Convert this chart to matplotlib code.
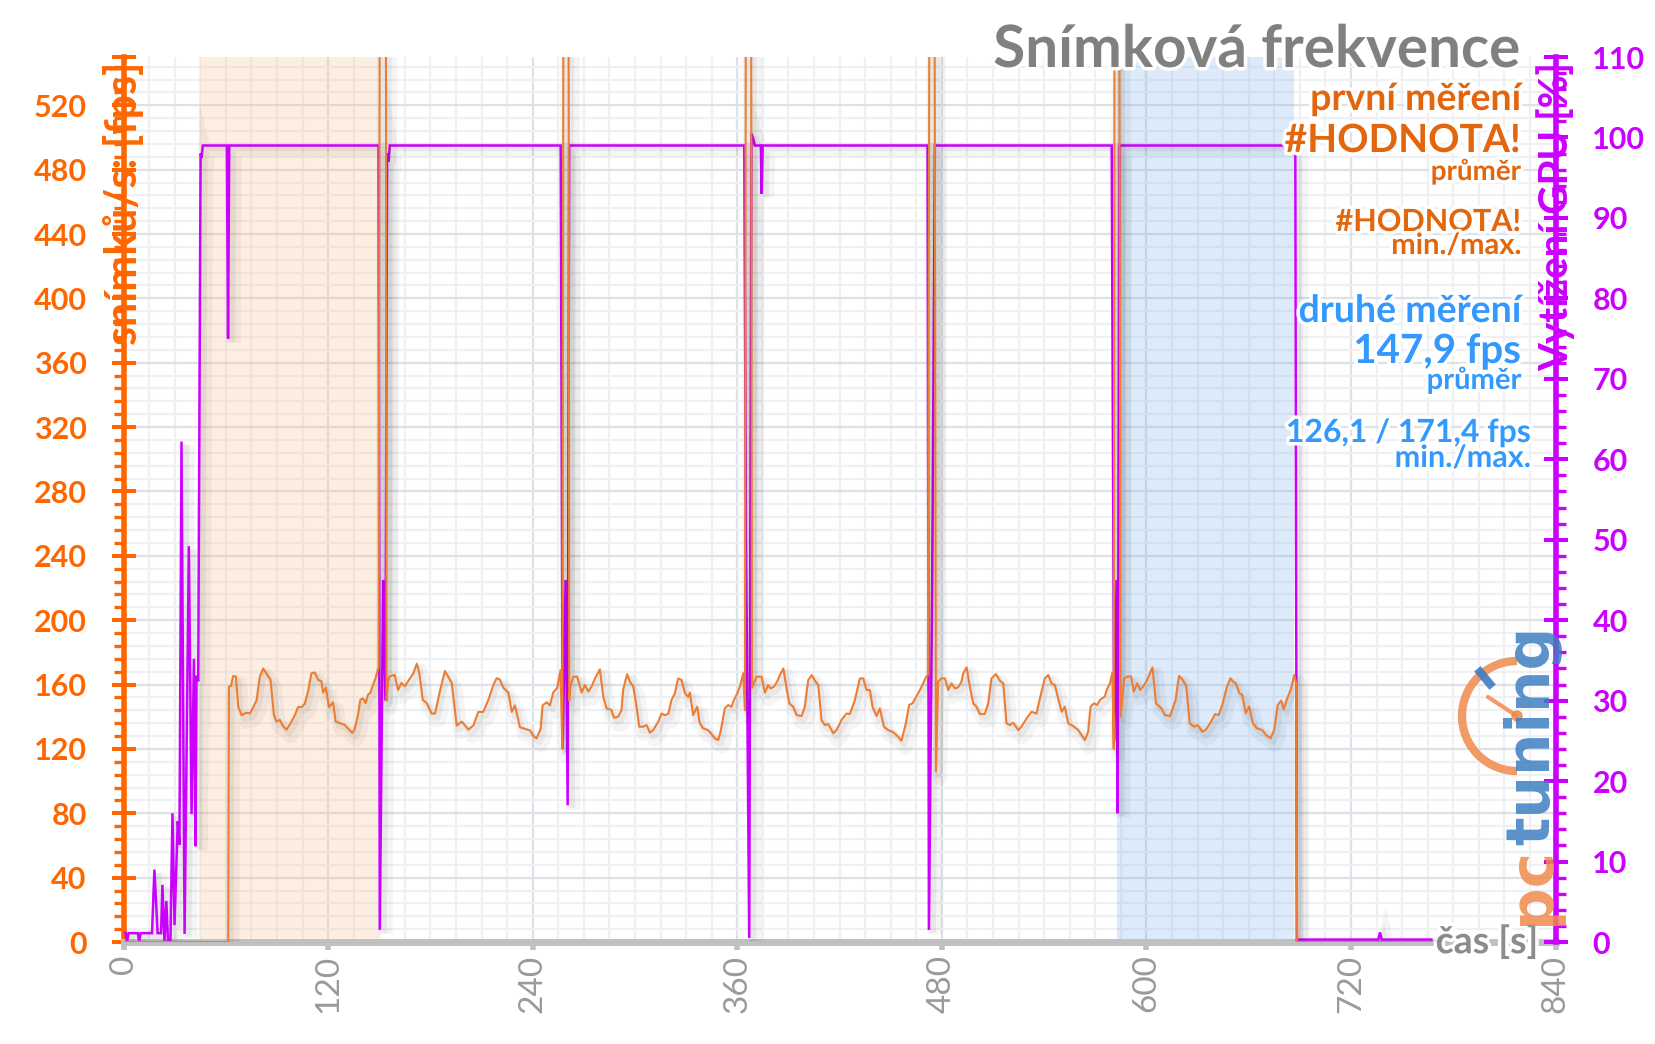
import matplotlib
matplotlib.use("Agg")
import matplotlib.pyplot as plt
import matplotlib.patheffects as pe
from matplotlib.patches import Arc, Circle
from matplotlib.ticker import MultipleLocator

plt.rcParams['font.family'] = ['Lato', 'DejaVu Sans']

# --- data ---
fps_t = [0, 61.4, 61.8, 63.0, 64.3, 65.9, 67.3, 69.3, 72.2, 74.2, 76.1, 78.0, 80.0, 81.9, 84.9, 86.2,
         88.2, 89.7, 91.7, 93.6, 95.6, 97.5, 100.5, 102.4, 104.4, 106.3, 108.3, 110.2, 112.2, 114.1,
         116.1, 117.0, 118.6, 120.5, 122.9, 124.4, 126.8, 129.7, 132.2, 134.2, 135.5, 137.5, 138.9,
         140.4, 142.0, 143.4, 144.7, 146.3, 147.8, 149.6, 150.8, 153.6, 154.3, 155.2,
         156.0, 159.0, 161.0, 163.0, 165.0, 167.5, 170.0, 172.0, 173.5, 175.5, 177.8, 180.7, 182.7,
         185.6, 188.5, 192.5, 195.4, 198.4, 202.3, 205.2, 208.1, 211.0, 214.0, 217.0, 218.9, 220.8,
         222.8, 225.7, 227.7, 229.6, 232.5, 235.5, 238.4, 240.4, 242.3, 244.7, 245.8, 248.2, 250.1,
         252.0, 254.4, 256.3, 257.4, 258.4, 260.8, 261.4, 262.2,
         263.8, 266.1, 268.7, 270.6, 272.6, 274.5, 276.5, 279.4, 281.4, 283.3, 286.2, 287.6, 290.2,
         292.1, 293.1, 295.4, 297.0, 299.0, 300.9, 302.5, 304.8, 306.8, 308.7, 310.7, 313.6, 315.6,
         317.5, 319.5, 321.4, 323.4, 325.3, 327.3, 329.3, 331.2, 332.2, 334.1, 336.5, 338.0, 340.0,
         342.9, 344.9, 346.9, 348.8, 350.2, 352.7, 354.7, 356.6, 358.0, 360.0, 361.5, 363.5, 364.5,
         365.3, 367.8, 368.6,
         369.7, 371.3, 374.2, 376.2, 378.1, 379.5, 381.5, 383.4, 385.0, 387.0, 388.9, 390.5, 392.8,
         394.8, 397.7, 399.6, 401.6, 403.6, 405.5, 407.5, 409.4, 411.4, 413.3, 416.3, 418.2, 421.1,
         424.1, 426.0, 429.0, 431.9, 433.9, 435.8, 437.8, 439.3, 441.7, 443.6, 446.0, 448.5, 451.1,
         453.4, 456.3, 458.9, 460.8, 462.8, 464.7, 467.1, 469.0, 470.6, 471.8, 473.3, 475.2, 476.5,
         477.8, 479.8, 481.8, 483.7, 485.7, 487.6, 489.6, 491.5, 492.5, 494.5, 496.4, 498.4, 500.3,
         502.3, 505.2, 507.2, 509.1, 511.7, 514.0, 516.0, 517.9, 519.9, 521.8, 524.8, 526.7, 529.7,
         532.6, 535.5, 537.5, 540.4, 542.4, 544.3, 546.3, 548.2, 550.2, 552.1, 554.1, 557.0, 560.0,
         561.9, 563.9, 565.8, 567.2, 569.2, 571.1, 572.7, 575.5, 577.1, 578.6, 580.0, 580.8, 581.6,
         583.6, 584.8,
         586.9, 589.0, 591.0, 592.5, 594.6, 596.3, 598.3, 600.4, 603.5, 605.6, 608.7, 610.8, 613.9,
         617.1, 619.1, 621.2, 623.3, 625.4, 627.9, 630.0, 632.7, 634.7, 637.9, 640.3, 642.4, 644.5,
         647.2, 649.3, 650.7, 652.4, 654.5, 656.2, 658.2, 660.3, 662.4, 664.9, 668.0, 670.1, 672.8,
         674.9, 677.0, 679.0, 680.5, 682.6, 684.7, 686.7, 687.8, 688.4, 767]
fps_v = [0, 0, 158.7, 159, 165.3, 165, 146, 141, 142.5, 142, 146, 150, 165, 170, 165, 163,
         141, 137, 138, 134, 132, 135, 141, 146, 146, 148, 156, 167, 167.5, 163,
         162, 155, 158, 146, 149, 137, 136, 135, 132, 130, 132, 141, 150.5,
         151.5, 148.5, 153.7, 154.7, 159.7, 163.8, 171, 900, 900, 150, 162,
         165, 166, 156.6, 161, 159, 163, 167, 173, 167, 150.5, 148.5, 142, 142,
         156, 168.4, 161, 134.5, 137, 132, 134.6, 143, 143, 150.5, 160, 164, 163,
         158, 155, 143, 147, 133.5, 132.5, 131.5, 128, 126.5, 132.5, 147, 149, 147,
         155, 158, 169, 120, 900, 900, 150, 159,
         164.9, 164.9, 155, 159.7, 155.6, 158.7, 163.8, 169.4, 152.4, 145.2, 144.2, 139.4, 140,
         144.2, 157, 166.5, 161.8, 158.7, 146.2, 133.8, 133.8, 134.8, 130.1, 131.7, 136.9, 142,
         141, 141.7, 150.4, 154.5, 163.8, 162.8, 154.5, 152.4, 155, 141, 146.2, 135.9, 132.8,
         131.7, 129.2, 126.5, 125.5, 130.7, 145.2, 147.3, 146.2, 150.4, 154.5, 158.7, 167, 144,
         900, 900, 158,
         160.7, 164.9, 164.9, 155, 159.7, 157.6, 158.7, 161.8, 165.9, 170, 157.6, 148.3, 146.2,
         141, 140.4, 146.2, 162.8, 165.9, 162.4, 159.7, 137.9, 134.8, 135.5, 129.7, 131.7, 137.9,
         142, 141.7, 150.4, 163.8, 163.8, 156.6, 156.6, 146.2, 140.4, 145.2, 133.8, 131.7, 130.7,
         128.6, 125.1, 136, 147.3, 148.3, 152, 156.6, 160.7, 164.5, 166, 900, 900, 106,
         161.8, 163.8, 163.8, 156.6, 160.7, 157.6, 158.3, 161.8, 166.9, 170.7, 158.7, 148.3, 146.2,
         141.7, 141.7, 148.3, 163.8, 166.5, 162.4, 160.7, 135.9, 134.8, 136.3, 131.7, 133.8, 139,
         143.1, 142, 151.4, 163.8, 165.9, 160.7, 159.7, 151.4, 143.1, 146.2, 135.9, 134.2, 131.7,
         128.6, 125.5, 130.7, 146.2, 148.3, 147.3, 150.4, 152.5, 157.7, 160.8, 167.4, 120, 900,
         900, 140,
         163.9, 165, 165, 155.6, 160.8, 156.6, 159.1, 162.9, 170.7, 148.3, 145.2, 141, 140.5,
         150.4, 165.4, 162.9, 159.1, 135.9, 133.8, 134.9, 130.7, 131.7, 136.9, 141.7, 141.1, 147.3,
         158.7, 163.9, 161.8, 160.8, 154.6, 153.5, 142.1, 146.3, 135.9, 132.8, 131.7, 128.6, 126.6,
         131.7, 147.3, 150, 144.6, 151.5, 157, 166, 160.8, 0, 0]

gpu_t = [0, 1.4, 2, 3, 8.4, 9.2, 10, 16.7, 18.1, 20, 22, 22.8, 24, 25.1, 26.1, 27.5, 28.7, 29.9,
         31.8, 32.8, 34, 35.8, 38.3, 39.9, 41.3, 42.2, 42.8, 43.8, 45.2, 45.8, 46.5, 60.6, 61.3, 62,
         149.6, 150.3, 152.3, 153.6, 154.6, 155.4, 156.2, 256.4, 257.6, 259.3, 260.5, 261.4,
         364.1, 365.1, 367.0, 368.3, 369.5, 370.2, 373.8, 374.3, 374.9, 471.6, 472.4, 474.3, 475.9,
         579.6, 581.1, 582.5, 583.1, 584.2, 687.3, 688.2, 736, 737, 738, 767]
gpu_v = [1.1, 1.1, 0, 1.1, 1.1, 0, 1.1, 1.1, 9, 1.1, 1.1, 7.1, 0, 5.1, 0, 0, 16, 2.1,
         15, 12.1, 62.2, 1, 49.2, 15.9, 35.2, 11.9, 33.1, 32.4, 98, 97.5, 99, 99, 75, 99,
         99, 1.5, 45, 30, 98, 97, 99, 99, 24, 45, 17, 99,
         99, 50, 0.5, 100.5, 99.7, 99, 99, 93, 99, 99, 1.5, 44, 99,
         99, 25, 45, 16, 99, 99, 0.3, 0.3, 1.2, 0.3, 0.3]

first_run = (44.6, 149.3)
second_run = (582.9, 686.3)

time_ticks = [0, 120, 240, 360, 480, 600, 720, 840]
fps_ticks = list(range(0, 521, 40))
gpu_ticks = list(range(0, 111, 10))

ORANGE = '#ff6600'
MAGENTA = '#cc00ff'
LINE_OR = '#ed7d31'
TXT_OR = '#e3650c'
BLUE = '#3399ff'
GRAY = '#808080'

halo = [pe.withStroke(linewidth=5, foreground='white')]

fig = plt.figure(figsize=(16.56, 10.44), dpi=100)
ax = fig.add_axes([0.0746, 0.0977, 0.8648, 0.8477])
ax_gpu = ax.twinx()
ax_fps = ax.twinx()

# base axes: grid, shaded runs, time axis, fps axis
ax.set_xlim(0, 840)
ax.set_ylim(0, 550)
ax.set_axisbelow(True)
ax.xaxis.set_minor_locator(MultipleLocator(15))
ax.yaxis.set_minor_locator(MultipleLocator(8))
ax.grid(True, which='major', color='#dde1e8', lw=1.6)
ax.grid(True, which='minor', color='#eef0f4', lw=1.6)
ax.axvspan(*first_run, color='#f7bf8b', alpha=0.25, lw=0, zorder=1)
ax.axvspan(*second_run, color='#77afeb', alpha=0.25, lw=0, zorder=1)

ax.set_xticks(time_ticks, labels=[str(t) for t in time_ticks], rotation=90,
              color='#9a9a9a', fontsize=24)
ax.tick_params(axis='x', which='major', direction='out', length=6, width=4,
               color='#c0c0c0', pad=3)
ax.tick_params(axis='x', which='minor', length=0)
ax.set_yticks(fps_ticks, labels=[str(v) for v in fps_ticks], fontweight='bold')
ax.tick_params(axis='y', which='major', direction='inout', length=17, width=2.9,
               color=ORANGE, labelcolor=ORANGE, labelsize=22, pad=18)
ax.tick_params(axis='y', which='minor', direction='out', length=7, width=2.4, color=ORANGE)
ax.plot([0], [550], marker='_', ms=17, mew=2.9, color=ORANGE, clip_on=False, zorder=3)

for s in ['top', 'right']:
    ax.spines[s].set_visible(False)
ax.spines['left'].set_color(ORANGE)
ax.spines['left'].set_linewidth(4)
ax.spines['bottom'].set_color('#c0c0c0')
ax.spines['bottom'].set_linewidth(5)

ax.text(0, 0.835, 'snímků/s: [fps]', transform=ax.transAxes, rotation=90,
        ha='center', va='center', color=ORANGE, fontsize=31, fontweight='bold', zorder=5)
ax.text(830, -7, 'čas [s]', ha='right', va='baseline', color='#8c8c8c', fontsize=27,
        fontweight='bold', path_effects=halo, zorder=5)

# GPU axis
ax_gpu.set_ylim(0, 110)
ax_gpu.plot(gpu_t, gpu_v, color=MAGENTA, lw=1.8, solid_joinstyle='miter',
            path_effects=[pe.SimpleLineShadow(offset=(4, -3), alpha=0.04, linewidth=10),
                          pe.SimpleLineShadow(offset=(3, -2), alpha=0.05, linewidth=4),
                          pe.Normal()])
ax_gpu.set_yticks(gpu_ticks, labels=[str(v) for v in gpu_ticks], fontweight='bold')
ax_gpu.yaxis.set_minor_locator(MultipleLocator(2))
ax_gpu.tick_params(axis='y', which='major', direction='inout', length=17, width=2.9,
                   color=MAGENTA, labelcolor=MAGENTA, labelsize=22, pad=18)
ax_gpu.tick_params(axis='y', which='minor', direction='out', length=7, width=2.4, color=MAGENTA)
for s in ['top', 'left', 'bottom']:
    ax_gpu.spines[s].set_visible(False)
ax_gpu.spines['right'].set_color(MAGENTA)
ax_gpu.spines['right'].set_linewidth(4)
ax_gpu.text(1, 0.82, 'Vytížení GPU [%]', transform=ax_gpu.transAxes, rotation=90,
            ha='center', va='center', color=MAGENTA, fontsize=29, fontweight='bold')

# fps line on top
ax_fps.set_ylim(0, 550)
ax_fps.plot(fps_t, fps_v, color=LINE_OR, lw=1.5,
            path_effects=[pe.SimpleLineShadow(offset=(3, -5), alpha=0.04, linewidth=10),
                          pe.SimpleLineShadow(offset=(2, -3), alpha=0.05, linewidth=4),
                          pe.Normal()])
ax_fps.yaxis.set_visible(False)
for s in ax_fps.spines.values():
    s.set_visible(False)

# title and summary texts (figure pixel positions)
W, H = 1656, 1044
def ftxt(x, y, s, color, size, **kw):
    fig.text(x / W, 1 - y / H, s, color=color, fontsize=size, fontweight='bold',
             ha='right', va='baseline', path_effects=halo, **kw)

ftxt(1521, 67, 'Snímková frekvence', GRAY, 42)
ftxt(1521, 110, 'první měření', TXT_OR, 27)
ftxt(1521, 152, '#HODNOTA!', TXT_OR, 28)
ftxt(1521, 180, 'průměr', TXT_OR, 20)
ftxt(1521, 231, '#HODNOTA!', TXT_OR, 22)
ftxt(1521, 254, 'min./max.', TXT_OR, 21)
ftxt(1521, 322, 'druhé měření', BLUE, 27)
ftxt(1521, 363, '147,9 fps', BLUE, 29)
ftxt(1521, 389, 'průměr', BLUE, 21)
ftxt(1531, 442, '126,1 / 171,4 fps', BLUE, 23)
ftxt(1531, 467, 'min./max.', BLUE, 22)

# pctuning logo overlay
lg = fig.add_axes([0, 0, 1, 1], zorder=10)
lg.set_xlim(0, W)
lg.set_ylim(H, 0)
lg.axis('off')
lg.patch.set_visible(False)
lg.add_patch(Arc((1517, 716), 110, 110, theta1=90, theta2=270, color='#f08a4b', lw=6, alpha=0.85))
lg.plot([1517, 1488], [716, 697], color='#f08a4b', lw=3, alpha=0.85, solid_capstyle='round')
lg.add_patch(Circle((1517, 716), 5, color='#f08a4b', alpha=0.85))
lg.plot([1490, 1480], [684, 672], color='#3d7fc1', lw=6, alpha=0.9)
lg.text(1549, 925, 'pc', rotation=90, rotation_mode='anchor', ha='left', va='baseline',
        color='#f08a4b', fontsize=43, fontweight='bold', family='DejaVu Sans', alpha=0.85)
lg.text(1549, 845, 'tuning', rotation=90, rotation_mode='anchor', ha='left', va='baseline',
        color='#3d7fc1', fontsize=43, fontweight='bold', family='DejaVu Sans', alpha=0.85)

fig.savefig('out.png', dpi=100)
